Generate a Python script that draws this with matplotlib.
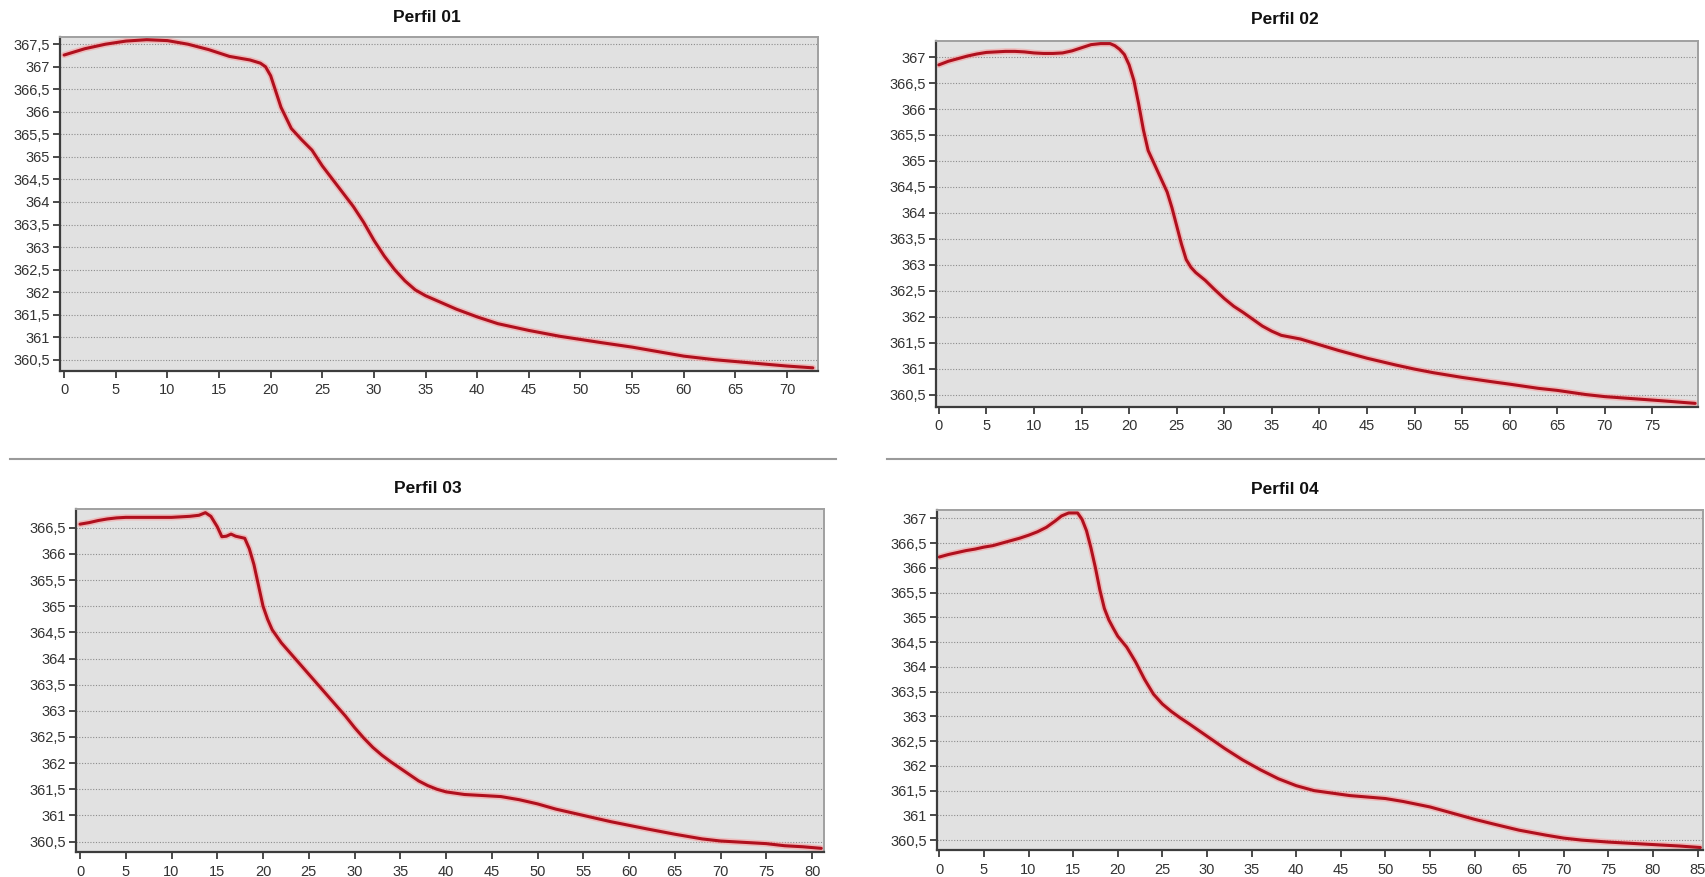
import matplotlib.pyplot as plt
from matplotlib.lines import Line2D
from matplotlib.ticker import MultipleLocator, FuncFormatter

# Perfil 01
x_p1 = [0, 2, 4, 6, 8, 10, 12, 14, 16, 18, 19, 19.5, 20, 20.5, 21, 22, 23, 24, 25, 26, 27, 28, 29, 30,
        31, 32, 33, 34, 35, 36, 38, 40, 42, 45, 48, 50, 52, 55, 58, 60, 63, 65, 68, 70, 72.5]
y_p1 = [367.26, 367.40, 367.50, 367.57, 367.60, 367.58, 367.50, 367.38, 367.23, 367.15, 367.08, 367.0,
        366.8, 366.45, 366.1, 365.63, 365.38, 365.15, 364.8, 364.5, 364.2, 363.9, 363.55, 363.15,
        362.8, 362.5, 362.25, 362.05, 361.92, 361.82, 361.62, 361.45, 361.3, 361.15, 361.02, 360.95,
        360.88, 360.78, 360.66, 360.58, 360.5, 360.46, 360.4, 360.36, 360.32]

# Perfil 02
x_p2 = [0, 1, 2, 3, 4, 5, 6, 7, 8, 9, 10, 11, 12, 13, 14, 15, 16, 17, 18, 18.5, 19, 19.5, 20, 20.5,
        21, 21.5, 22, 22.5, 23, 23.5, 24, 24.5, 25, 25.5, 26, 26.5, 27, 28, 29, 30, 31, 32, 33, 34,
        35, 36, 38, 40, 42, 45, 48, 50, 52, 55, 58, 60, 63, 65, 68, 70, 73, 76, 79.5]
y_p2 = [366.85, 366.92, 366.97, 367.02, 367.06, 367.09, 367.1, 367.11, 367.11, 367.1, 367.08, 367.07,
        367.07, 367.08, 367.12, 367.18, 367.24, 367.26, 367.26, 367.22, 367.15, 367.05, 366.85, 366.55,
        366.1, 365.6, 365.2, 365.0, 364.8, 364.6, 364.4, 364.1, 363.75, 363.4, 363.1, 362.95, 362.85,
        362.7, 362.52, 362.35, 362.2, 362.08, 361.95, 361.82, 361.72, 361.64, 361.57, 361.46, 361.35,
        361.2, 361.07, 360.99, 360.92, 360.83, 360.75, 360.7, 360.62, 360.58, 360.5, 360.46, 360.42,
        360.38, 360.33]

# Perfil 03
x_p3 = [0, 1, 2, 3, 4, 5, 6, 8, 10, 12, 13, 13.7, 14.3, 15, 15.5, 16, 16.5, 17, 17.5, 18, 18.5, 19,
        19.5, 20, 20.5, 21, 22, 23, 24, 25, 26, 27, 28, 29, 30, 31, 32, 33, 34, 35, 36, 37, 38, 39, 40,
        42, 44, 46, 48, 50, 52, 55, 58, 60, 62, 65, 68, 70, 72, 75, 77, 79, 81]
y_p3 = [366.57, 366.6, 366.64, 366.67, 366.69, 366.7, 366.7, 366.7, 366.7, 366.72, 366.74, 366.79,
        366.72, 366.52, 366.33, 366.34, 366.38, 366.34, 366.32, 366.3, 366.1, 365.8, 365.4, 365.0,
        364.75, 364.55, 364.3, 364.1, 363.9, 363.7, 363.5, 363.3, 363.1, 362.9, 362.68, 362.48, 362.3,
        362.15, 362.02, 361.9, 361.78, 361.66, 361.57, 361.5, 361.45, 361.4, 361.38, 361.36, 361.3,
        361.22, 361.12, 361.0, 360.88, 360.81, 360.74, 360.64, 360.55, 360.51, 360.49, 360.46, 360.42,
        360.4, 360.37]

# Perfil 04
x_p4 = [0, 1, 2, 3, 4, 5, 6, 7, 8, 9, 10, 11, 12, 13, 13.7, 14.5, 15.5, 16, 16.5, 17, 17.5, 18, 18.5,
        19, 19.5, 20, 21, 22, 23, 24, 25, 26, 27, 28, 30, 32, 34, 36, 38, 40, 42, 44, 46, 48, 50, 52,
        55, 58, 60, 62, 65, 68, 70, 72, 75, 78, 81, 83, 85.3]
y_p4 = [366.22, 366.27, 366.31, 366.35, 366.38, 366.42, 366.45, 366.5, 366.55, 366.6, 366.66, 366.73,
        366.82, 366.95, 367.05, 367.11, 367.11, 366.98, 366.75, 366.4, 366.0, 365.55, 365.18, 364.95,
        364.78, 364.62, 364.4, 364.1, 363.75, 363.45, 363.25, 363.1, 362.97, 362.85, 362.6, 362.35,
        362.12, 361.92, 361.74, 361.6, 361.5, 361.45, 361.4, 361.37, 361.34, 361.28, 361.17, 361.02,
        360.92, 360.83, 360.7, 360.6, 360.54, 360.5, 360.46, 360.43, 360.4, 360.38, 360.35]

titles = ["Perfil 01", "Perfil 02", "Perfil 03", "Perfil 04"]

W, H = 1705, 877

plt.rcParams['font.family'] = ['Liberation Sans', 'DejaVu Sans']


def comma_fmt(v, pos):
    if abs(v - round(v)) < 1e-6:
        return "%d" % round(v)
    return ("%.1f" % v).replace(".", ",")


def add_panel(fig, box, xs, ys, xlim, ylim, yticks, title, title_xy):
    l, t, r, b = box
    ax = fig.add_axes([l / W, 1 - b / H, (r - l) / W, (b - t) / H])
    ax.set_facecolor('#e1e1e1')
    # soft glow under the red line
    ax.plot(xs, ys, color='#f6a0a0', lw=4.5, alpha=0.6, solid_capstyle='round')
    ax.plot(xs, ys, color='#b0101e', lw=2.2, solid_capstyle='round')
    ax.set_xlim(*xlim)
    ax.set_ylim(*ylim)
    ax.xaxis.set_major_locator(MultipleLocator(5))
    ax.set_yticks(yticks)
    ax.yaxis.set_major_formatter(FuncFormatter(comma_fmt))
    ax.grid(axis='y', color='#8c8c8c', lw=0.8, linestyle=(0, (1, 1.5)))
    ax.set_axisbelow(True)
    for side in ['left', 'bottom']:
        ax.spines[side].set_color('#3c3c3c')
        ax.spines[side].set_linewidth(1.6)
    for side in ['top', 'right']:
        ax.spines[side].set_color('#a0a0a0')
        ax.spines[side].set_linewidth(1.4)
    ax.tick_params(axis='both', direction='out', length=5, width=1.3, color='#3c3c3c',
                   labelsize=10.5, labelcolor='#333333', pad=2)
    ax.tick_params(axis='x', pad=4)
    fig.text(title_xy[0] / W, 1 - title_xy[1] / H, title, ha='center', va='center',
             fontsize=12.5, fontweight='bold', color='#111111')
    return ax


def halfs(lo, hi):
    n = int(round((hi - lo) / 0.5))
    return [lo + 0.5 * i for i in range(n + 1)]


def main():
    fig = plt.figure(figsize=(W / 100, H / 100), dpi=100)
    fig.patch.set_facecolor('white')

    add_panel(fig, (60, 37, 818, 371), x_p1, y_p1, (-0.4, 73.0), (360.25, 367.66),
              halfs(360.5, 367.5), titles[0], (427, 17))
    add_panel(fig, (936, 41, 1698, 407), x_p2, y_p2, (-0.3, 79.8), (360.26, 367.31),
              halfs(360.5, 367.0), titles[1], (1285, 20))
    add_panel(fig, (76, 509, 824, 852), x_p3, y_p3, (-0.44, 81.3), (360.3, 366.86),
              halfs(360.5, 366.5), titles[2], (428, 489))
    add_panel(fig, (937, 510, 1703, 850), x_p4, y_p4, (-0.26, 85.6), (360.3, 367.17),
              halfs(360.5, 367.0), titles[3], (1285, 490))

    # separator lines between the rows
    for x0, x1 in [(10, 836), (887, 1705)]:
        fig.add_artist(Line2D([x0 / W, x1 / W], [1 - 459 / H, 1 - 459 / H],
                              color='#9a9a9a', lw=1.5, transform=fig.transFigure))

    fig.savefig('out.png', dpi=100)


main()
